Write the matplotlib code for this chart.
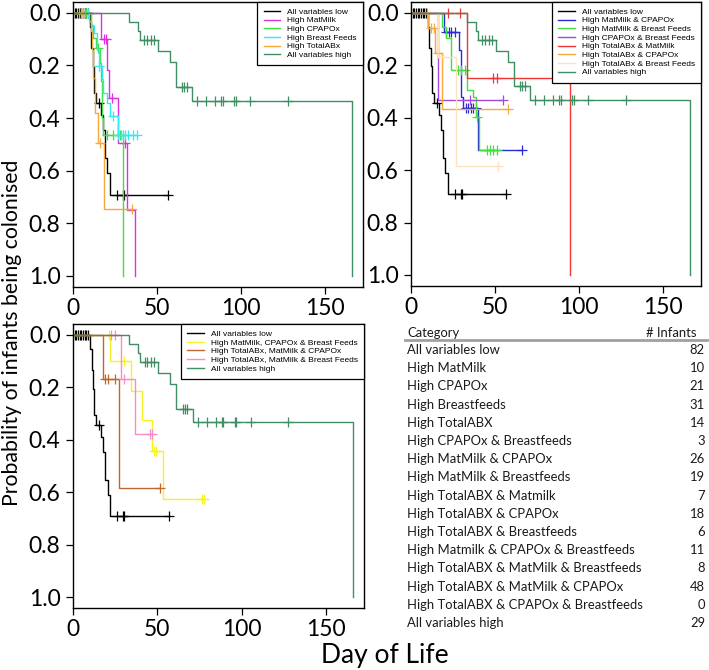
import numpy as np
import matplotlib
matplotlib.use('Agg')
import matplotlib.pyplot as plt

# ---- data (cumulative probability of colonisation) ----
# each group: event days, value after each event, censor days
low_t = [10.2, 11.0, 11.7, 12.4, 13.5, 16.6, 17.6, 19.2, 20.5, 21.9]
low_p = [0.053, 0.135, 0.205, 0.306, 0.344, 0.389, 0.446, 0.553, 0.61, 0.692]
low_c = [1, 2, 3, 4, 5, 6, 7, 8, 9, 15.6, 26.1, 29.6, 30.4, 56.8]

high_t = [33.3, 38.7, 40.0, 50.4, 57.5, 61.1, 71.1, 165.8]
high_p = [0.034, 0.070, 0.105, 0.145, 0.187, 0.281, 0.334, 1.0]
high_c = [42.5, 44, 46.2, 48.2, 65, 66.2, 67.8, 74, 79.4, 84.8, 88.1, 89,
          96, 96.9, 105.4, 127.8]

# top left
matmilk_t = [16.9, 20.4, 21.6, 26.5, 32.4, 36.9]
matmilk_p = [0.10, 0.217, 0.325, 0.496, 0.749, 1.0]
matmilk_c = [18.2, 19.5, 23, 31]

cpap_t = [10.5, 12, 13.5, 16, 16.5, 17, 17.5, 18, 29.8]
cpap_p = [0.048, 0.095, 0.134, 0.19, 0.26, 0.33, 0.40, 0.464, 1.0]
cpap_c = [7, 8, 15, 20, 24, 28]

bf_t = [9.5, 11, 12.5, 14, 15.5, 17, 18, 20, 22, 26.5]
bf_p = [0.03, 0.052, 0.077, 0.14, 0.204, 0.25, 0.305, 0.343, 0.394, 0.464]
bf_c = [9, 15.7, 24, 27, 28.5, 29.5, 31, 33, 35.5, 38]

abx_t = [11, 11.6, 12.1, 13.1, 15.1, 18.5]
abx_p = [0.07, 0.141, 0.248, 0.381, 0.496, 0.746]
abx_c = [3.5, 5, 6, 15.8, 35]

# top right
mm_cp_t = [19.5, 28.8, 29.8, 31.2, 40]
mm_cp_p = [0.072, 0.142, 0.32, 0.364, 0.523]
mm_cp_c = [21, 22.5, 24, 26, 33, 34, 35.5, 37, 38.5, 66]

mm_bf_t = [18.5, 21, 24, 33.2, 37, 38.5, 40.2]
mm_bf_p = [0.053, 0.098, 0.218, 0.294, 0.32, 0.396, 0.523]
mm_bf_c = [28, 30, 32, 39, 45, 47, 49, 51]

cp_bf_t = [16]
cp_bf_p = [0.333]
cp_bf_c = [35, 55]

abx_mm_t = [33.3, 94.8]
abx_mm_p = [0.25, 1.0]
abx_mm_c = [22.2, 29.3, 49, 51]

abx_cp_t = [10.2, 14.5, 18.5]
abx_cp_p = [0.06, 0.155, 0.368]
abx_cp_c = [9.8, 12.2, 13.5, 16.2, 58]

abx_bf_t = [16, 27]
abx_bf_p = [0.167, 0.583]
abx_bf_c = [19, 52]

# bottom left
mm_cp_bf_t = [22, 34.6, 41, 47, 53.2]
mm_cp_bf_p = [0.101, 0.214, 0.325, 0.443, 0.625]
mm_cp_bf_c = [21.5, 30.5, 48, 49, 76.5, 77.5]

abx_mm_cp_t = [18, 27.4]
abx_mm_cp_p = [0.167, 0.585]
abx_mm_cp_c = [19.2, 20.5, 24.8, 51.4]

abx_mm_bf_t = [28.2, 37]
abx_mm_bf_p = [0.167, 0.378]
abx_mm_bf_c = [22.8, 24.8, 30.3, 45.5, 47]

# table
categories = ['All variables low', 'High MatMilk', 'High CPAPOx', 'High Breastfeeds',
              'High TotalABX', 'High CPAPOx & Breastfeeds', 'High MatMilk & CPAPOx',
              'High MatMilk & Breastfeeds', 'High TotalABX & Matmilk',
              'High TotalABX & CPAPOx', 'High TotalABX & Breastfeeds',
              'High Matmilk & CPAPOx & Breastfeeds', 'High TotalABX & MatMilk & Breastfeeds',
              'High TotalABX & MatMilk & CPAPOx', 'High TotalABX & CPAPOx & Breastfeeds',
              'All variables high']
n_infants = [82, 10, 21, 31, 14, 3, 26, 19, 7, 18, 6, 11, 8, 48, 0, 29]

C_LOW, C_HIGH = 'black', '#3f8f62'

panels = [
    [('All variables low', low_t, low_p, low_c, C_LOW),
     ('High MatMilk', matmilk_t, matmilk_p, matmilk_c, '#e22ee2'),
     ('High CPAPOx', cpap_t, cpap_p, cpap_c, '#3fe03f'),
     ('High Breast Feeds', bf_t, bf_p, bf_c, '#35e8f5'),
     ('High TotalABx', abx_t, abx_p, abx_c, '#f7a83a'),
     ('All variables high', high_t, high_p, high_c, C_HIGH)],
    [('All variables low', low_t, low_p, low_c, C_LOW),
     ('High MatMilk & CPAPOx', mm_cp_t, mm_cp_p, mm_cp_c, '#2a2ad8'),
     ('High MatMilk & Breast Feeds', mm_bf_t, mm_bf_p, mm_bf_c, '#3fe03f'),
     ('High CPAPOx & Breast Feeds', cp_bf_t, cp_bf_p, cp_bf_c, '#a648e0'),
     ('High TotalABx & MatMilk', abx_mm_t, abx_mm_p, abx_mm_c, '#f03535'),
     ('High TotalABx & CPAPOx', abx_cp_t, abx_cp_p, abx_cp_c, '#f7a83a'),
     ('High TotalABx & Breast Feeds', abx_bf_t, abx_bf_p, abx_bf_c, '#fde3bd'),
     ('All variables high', high_t, high_p, high_c, C_HIGH)],
    [('All variables low', low_t, low_p, low_c, C_LOW),
     ('High MatMilk, CPAPOx & Breast Feeds', mm_cp_bf_t, mm_cp_bf_p, mm_cp_bf_c, '#f5f224'),
     ('High TotalABx, MatMilk & CPAPOx', abx_mm_cp_t, abx_mm_cp_p, abx_mm_cp_c, '#c2662f'),
     ('High TotalABx, MatMilk & Breast Feeds', abx_mm_bf_t, abx_mm_bf_p, abx_mm_bf_c, '#f78cc8'),
     ('All variables high', high_t, high_p, high_c, C_HIGH)],
]

W, H = 709, 670
fig = plt.figure(figsize=(W / 100, H / 100), dpi=100)

# axes boxes in pixels: left, top, right, bottom
boxes = [(73, 1.7, 363, 287), (411, 1.7, 701, 286), (73, 323.8, 364, 608.2)]

LABEL_FONT = 'Lato'

for (l, t, r, b), curves in zip(boxes, panels):
    ax = fig.add_axes([l / W, 1 - b / H, (r - l) / W, (b - t) / H])
    for name, ts, ps, cs, col in curves:
        ts = np.asarray(ts, float)
        vals = np.concatenate([[0.0], ps])
        end = max(ts.max(), max(cs))
        xs = np.concatenate([[0.0], ts, [end]])
        ys = np.concatenate([vals, [vals[-1]]])
        ax.step(xs, ys, where='post', color=col, lw=1.0, label=name)
        cy = vals[np.searchsorted(ts, cs, side='right')]
        ax.plot(cs, cy, ls='none', marker='+', ms=6.5, mew=0.9, color=col)
    ax.set_xlim(0, 172.6)
    ax.set_ylim(1.042, -0.042)
    ax.set_xticks([0, 50, 100, 150])
    ax.set_yticks([0, 0.2, 0.4, 0.6, 0.8, 1.0])
    ax.set_yticklabels(['0.0', '0.2', '0.4', '0.6', '0.8', '1.0'])
    ax.tick_params(direction='out', length=5, width=0.9, pad=3, labelsize=16.5)
    ax.tick_params(axis='y', pad=4)
    for lab in ax.get_xticklabels() + ax.get_yticklabels():
        lab.set_family(LABEL_FONT)
    for sp in ax.spines.values():
        sp.set_linewidth(1.0)
    leg = ax.legend(loc='upper right', borderaxespad=0, fancybox=False, framealpha=1,
                    edgecolor='black', prop={'family': 'Liberation Sans', 'size': 6},
                    handlelength=2.0, handletextpad=0.85, labelspacing=0.1, borderpad=0.75)
    leg.get_frame().set_linewidth(0.9)

fig.text(12 / W, 1 - 333 / H, 'Probability of infants being colonised', rotation=90,
         ha='center', va='center', fontsize=15.3, family=LABEL_FONT)
fig.text(385 / W, 1 - 655 / H, 'Day of Life', ha='center', va='center',
         fontsize=19, family=LABEL_FONT)

# table of group sizes
tcol = '#1a1a1a'
TFS = 9.4
fig.text(407 / W, 1 - 332.7 / H, 'Category', ha='left', va='center', fontsize=TFS,
         family=LABEL_FONT, color=tcol)
fig.text(697 / W, 1 - 332.7 / H, '# Infants', ha='right', va='center', fontsize=TFS,
         family=LABEL_FONT, color=tcol)
fig.add_artist(plt.Line2D([405 / W, 707 / W], [1 - 340 / H, 1 - 340 / H], color='#a0a0a0', lw=2))
for i, (cat, n) in enumerate(zip(categories, n_infants)):
    y = 1 - (350 + i * 18.2) / H
    fig.text(407 / W, y, cat, ha='left', va='center', fontsize=TFS, family=LABEL_FONT, color=tcol)
    fig.text(705 / W, y, str(n), ha='right', va='center', fontsize=TFS, family=LABEL_FONT, color=tcol)

fig.savefig('out.png', dpi=100)
